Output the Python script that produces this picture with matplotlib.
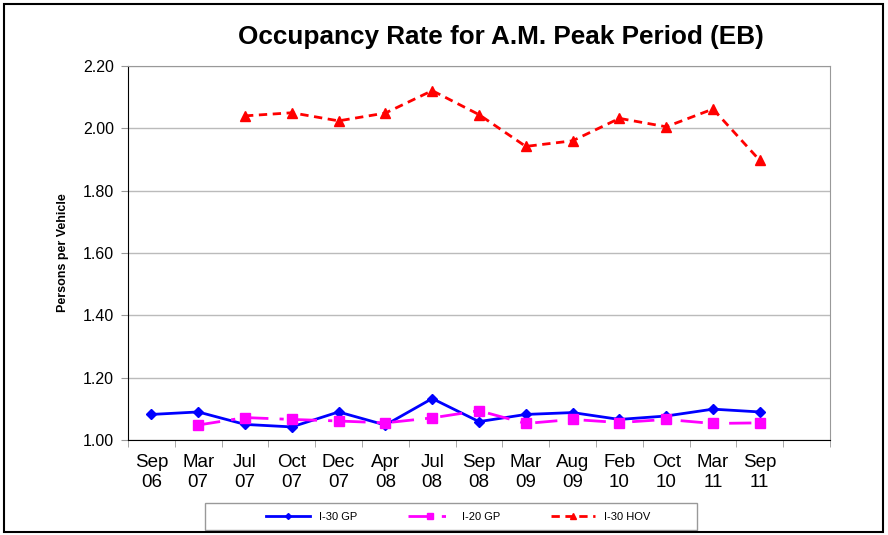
import numpy as np
import matplotlib; matplotlib.use("Agg")
import matplotlib.pyplot as plt
from matplotlib.patches import Rectangle

plt.rcParams["font.family"] = ["Liberation Sans", "DejaVu Sans"]

periods = ["Sep\n06", "Mar\n07", "Jul\n07", "Oct\n07", "Dec\n07", "Apr\n08", "Jul\n08",
           "Sep\n08", "Mar\n09", "Aug\n09", "Feb\n10", "Oct\n10", "Mar\n11", "Sep\n11", ""]
i30_gp = [1.082, 1.090, 1.050, 1.042, 1.090, 1.048, 1.133, 1.059, 1.082, 1.088, 1.066, 1.077, 1.099, 1.090]
i20_gp = [np.nan, 1.048, 1.072, 1.066, 1.061, 1.055, 1.071, 1.094, 1.053, 1.066, 1.056, 1.066, 1.053, 1.055]
i30_hov = [np.nan, np.nan, 2.040, 2.050, 2.024, 2.049, 2.121, 2.044, 1.942, 1.960, 2.032, 2.005, 2.062, 1.897]

fig = plt.figure(figsize=(8.88, 5.35), dpi=100)
ax = fig.add_axes([128/888, 1-440/535, (830-128)/888, (440-66)/535])
x = np.arange(len(i30_gp))
ax.plot(x, i30_gp, color="#0000ff", lw=2, marker="D", ms=5, label="I-30 GP")
ax.plot(x, i20_gp, color="#ff00ff", lw=2, ls=(0, (8, 4, 1.5, 4)), marker="s", ms=7, label="I-20 GP")
ax.plot(x, i30_hov, color="#ff0000", lw=2, ls=(0, (3, 2)), marker="^", ms=7, label="I-30 HOV")

ax.set_xlim(-0.5, len(periods)-0.5)
ax.set_ylim(1.0, 2.2)
ax.set_yticks(np.arange(1.0, 2.21, 0.2))
ax.set_yticklabels([f"{v:.2f}" for v in np.arange(1.0, 2.21, 0.2)], fontsize=11.5)
ax.set_xticks(np.arange(len(periods)))
ax.set_xticklabels(periods, fontsize=13.5, linespacing=1.25)
ax.set_xticks(np.arange(-0.5, len(periods)), minor=True)
ax.tick_params(axis="x", which="major", length=0, pad=10)
ax.tick_params(axis="x", which="minor", length=5, color="#999999")
ax.tick_params(axis="y", length=5, color="#999999", pad=5)
ax.grid(axis="y", color="#bbbbbb", lw=1)
ax.set_axisbelow(True)
for s in ["top", "right"]:
    ax.spines[s].set_color("#999999")
ax.spines["left"].set_color("black")
ax.spines["bottom"].set_color("black")
ax.set_ylabel("Persons per Vehicle", fontsize=9, fontweight="bold", labelpad=10)
fig.text(501/888, 1-37/535, "Occupancy Rate for A.M. Peak Period (EB)", ha="center", va="center",
         fontsize=18.8, fontweight="bold")

# legend without its own frame, box drawn separately (Excel style wide box)
fig.legend(loc="center", bbox_to_anchor=(458/888, 1-517/535), ncol=3, fontsize=8,
           frameon=False, handlelength=4, columnspacing=4.6, markerscale=0.6)
fig.patches.append(Rectangle((205/888, 1-530/535), 492/888, 27/535, transform=fig.transFigure,
                             fill=False, edgecolor="#999999", lw=1))
fig.patches.append(Rectangle((4/888, 3/535), 879/888, 528/535, transform=fig.transFigure,
                             fill=False, edgecolor="black", lw=1.5))
fig.savefig("out.png", dpi=100)
